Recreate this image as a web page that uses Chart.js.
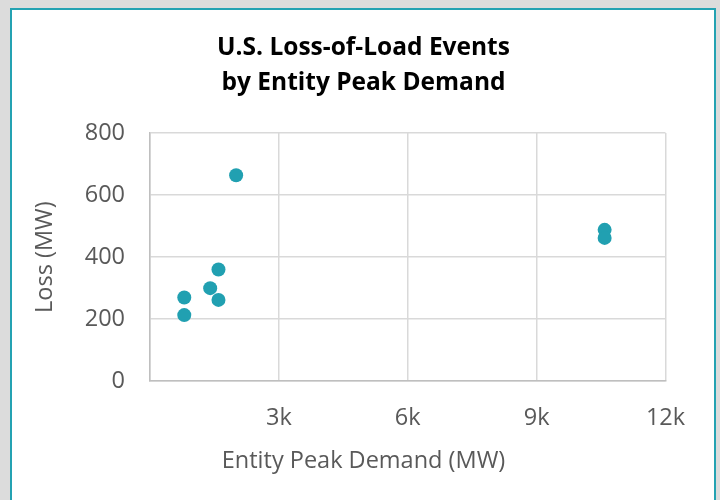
<!DOCTYPE html>
<html>
<head>
<meta charset="utf-8">
<script src="https://cdn.jsdelivr.net/npm/chart.js@4"></script>
<style>
  html, body { margin: 0; padding: 0; }
  body { width: 720px; height: 500px; background: #dcdcdc; position: relative; overflow: hidden; }
  #frame { position: absolute; left: 10px; top: 8px; width: 702px; height: 600px; background: #fff; border: 2px solid #24a2b2; }
  #wrap { position: absolute; left: 0; top: 0; width: 720px; height: 500px; }
</style>
</head>
<body>
<div id="frame"></div>
<div id="wrap"><canvas id="chart" width="720" height="500"></canvas></div>
<script>
// peak demand (MW) and loss (MW) per event
const peakDemand = [2005, 1594, 1401, 1594, 798, 798, 10583, 10583];
const lossMW = [664, 360, 300, 262, 270, 213, 488, 462];

const titleLines = ["U.S. Loss-of-Load Events", "by Entity Peak Demand"];
const xTitle = "Entity Peak Demand (MW)";
const yTitle = "Loss (MW)";

const tickColor = "#595959";
const gridColor = "#d9d9d9";
const fontFamily = "'Open Sans', sans-serif";
const textSize = 23.5;

const points = peakDemand.map((x, i) => ({ x, y: lossMW[i] }));

new Chart(document.getElementById("chart"), {
  type: "scatter",
  data: {
    datasets: [{
      data: points,
      backgroundColor: "#21a0b1",
      borderWidth: 0,
      pointRadius: 7,
      pointHoverRadius: 7
    }]
  },
  options: {
    responsive: false,
    animation: false,
    events: [],
    layout: { padding: { left: 20, right: 13, top: 26, bottom: 14 } },
    plugins: {
      legend: { display: false },
      tooltip: { enabled: false },
      title: {
        display: true,
        text: titleLines,
        color: "#000",
        font: { family: fontFamily, size: 24.5, weight: "bold", lineHeight: 1.41 },
        padding: { top: 5, bottom: 33 }
      },
      subtitle: {
        display: true,
        position: "bottom",
        text: xTitle,
        color: tickColor,
        font: { family: fontFamily, size: textSize, weight: "normal", lineHeight: 1.1 },
        padding: { top: 0, bottom: 12 }
      }
    },
    scales: {
      x: {
        type: "linear",
        min: 0,
        max: 12000,
        ticks: {
          stepSize: 3000,
          padding: 23,
          color: tickColor,
          font: { family: fontFamily, size: textSize },
          maxRotation: 0,
          callback: v => v === 0 ? "" : (v / 1000) + "k"
        },
        grid: { color: gridColor, lineWidth: 1.5, drawTicks: false },
        border: { color: "#bfbfbf", width: 1.5 },
        afterFit: s => { s.height = 67; }
      },
      y: {
        min: 0,
        max: 800,
        ticks: {
          stepSize: 200,
          padding: 25,
          color: tickColor,
          font: { family: fontFamily, size: textSize }
        },
        grid: { color: gridColor, lineWidth: 1.5, drawTicks: false },
        border: { color: "#bfbfbf", width: 1.5 },
        title: {
          display: true,
          text: yTitle,
          color: tickColor,
          font: { family: fontFamily, size: textSize },
          padding: { top: 11, bottom: 0 }
        },
        afterFit: s => { s.width = 130; }
      },
      yRight: {
        type: "linear",
        position: "right",
        display: true,
        grid: { display: false, drawTicks: false },
        border: { display: false },
        ticks: { display: false },
        afterFit: s => { s.width = 41.5; }
      }
    }
  }
});
</script>
</body>
</html>
